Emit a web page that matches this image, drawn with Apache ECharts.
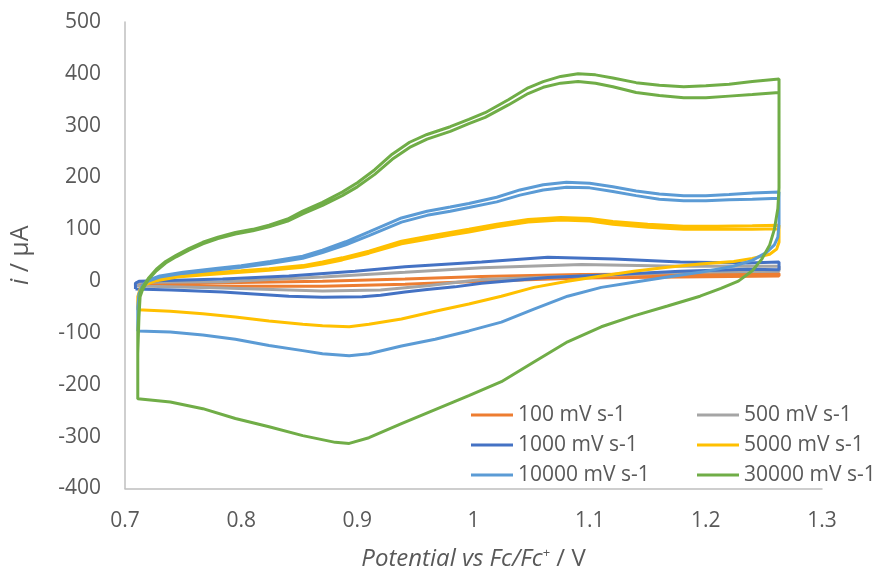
<!DOCTYPE html>
<html>
<head>
<meta charset="utf-8">
<script src="https://cdn.jsdelivr.net/npm/echarts@6/dist/echarts.min.js"></script>
<style>
  html, body { margin: 0; padding: 0; background: #fff; }
  #chart { width: 880px; height: 576px; }
</style>
</head>
<body>
<div id="chart"></div>
<script>
// axis ticks
const xTicks = { min: 0.7, max: 1.3, step: 0.1 }
const yTicks = { min: -400, max: 500, step: 100 }

const seriesNames = ['100 mV s-1', '500 mV s-1', '1000 mV s-1', '5000 mV s-1', '10000 mV s-1', '30000 mV s-1']
const seriesColors = ['#ED7D31', '#A5A5A5', '#4472C4', '#FFC000', '#5B9BD5', '#70AD47']

// [potential / V, current / uA], traced as a closed loop
const cv100 = [
  [0.709, -6], [0.709, -3], [0.72, -2], [0.784, -3], [0.87, 0], [0.941, 4], [1.007, 9],
  [1.093, 13], [1.178, 14], [1.263, 15], [1.263, 10], [1.178, 8], [1.093, 6], [1.007, 0],
  [0.941, -6], [0.87, -10], [0.784, -10], [0.72, -7], [0.709, -6]
]
const cv500 = [
  [0.709, -9], [0.709, -4], [0.715, -2], [0.784, -1], [0.87, 8], [0.941, 17], [1.007, 26],
  [1.093, 32], [1.178, 29], [1.263, 29], [1.263, 19], [1.178, 17], [1.093, 10], [1.007, 3],
  [0.96, -9], [0.92, -17], [0.87, -19], [0.784, -13], [0.72, -10], [0.709, -9]
]
const cv1000 = [
  [0.709, -15], [0.709, -4], [0.712, 0], [0.784, 4], [0.841, 10], [0.898, 19], [0.941, 28],
  [1.007, 37], [1.064, 46], [1.121, 43], [1.178, 37], [1.236, 35], [1.263, 37],
  [1.263, 22], [1.236, 23], [1.178, 19], [1.121, 13], [1.064, 7], [1.007, -4], [0.984, -11],
  [0.96, -16], [0.941, -21], [0.92, -27], [0.904, -30], [0.87, -31], [0.841, -29],
  [0.784, -21], [0.74, -17], [0.709, -15]
]
const cv5000 = [
  [0.711, -55], [0.711, -32], [0.713, -17], [0.718, -6], [0.727, 1], [0.745, 8], [0.767, 12],
  [0.8, 17], [0.824, 21], [0.853, 27], [0.87, 33], [0.887, 41], [0.91, 54], [0.938, 72],
  [0.96, 81], [0.98, 89], [0.996, 95], [1.02, 105], [1.047, 114], [1.075, 118], [1.1, 116],
  [1.12, 110], [1.15, 104], [1.181, 100], [1.21, 100], [1.24, 100], [1.263, 101],
  [1.263, 75], [1.261, 62], [1.255, 52], [1.24, 44], [1.224, 38], [1.195, 33], [1.167, 27],
  [1.138, 19], [1.11, 10], [1.081, 0], [1.052, -12], [1.024, -29], [0.996, -44], [0.967, -58],
  [0.938, -73], [0.91, -83], [0.893, -88], [0.87, -86], [0.853, -83], [0.824, -77],
  [0.795, -69], [0.767, -63], [0.739, -58], [0.711, -55],
  [0.711, -30], [0.713, -15], [0.718, -4], [0.727, 3], [0.745, 10], [0.767, 15], [0.8, 20],
  [0.824, 24], [0.853, 30], [0.87, 37], [0.887, 45], [0.91, 58], [0.938, 77], [0.96, 86],
  [0.98, 94], [0.996, 100], [1.02, 110], [1.047, 119], [1.075, 123], [1.1, 121], [1.12, 115],
  [1.15, 110], [1.181, 106], [1.21, 106], [1.24, 107], [1.263, 108], [1.263, 80]
]
const cv10000 = [
  [0.711, -96], [0.711, -55], [0.712, -28], [0.715, -10], [0.72, 0], [0.73, 8], [0.75, 15],
  [0.78, 22], [0.8, 27], [0.825, 34], [0.853, 44], [0.87, 55], [0.89, 70], [0.91, 88],
  [0.938, 114], [0.96, 127], [0.98, 135], [0.996, 142], [1.02, 153], [1.04, 166], [1.06, 176],
  [1.08, 181], [1.1, 180], [1.12, 173], [1.14, 165], [1.16, 158], [1.181, 155], [1.2, 155],
  [1.22, 157], [1.24, 158], [1.263, 160],
  [1.263, 110], [1.262, 85], [1.259, 70], [1.252, 55], [1.24, 40], [1.224, 29], [1.195, 17],
  [1.167, 8], [1.138, -2], [1.11, -12], [1.081, -29], [1.052, -54], [1.024, -79], [0.996, -96],
  [0.967, -112], [0.938, -125], [0.91, -140], [0.893, -144], [0.87, -140], [0.853, -134],
  [0.824, -124], [0.795, -112], [0.767, -104], [0.739, -98], [0.711, -96],
  [0.711, -50], [0.712, -25], [0.715, -8], [0.72, 2], [0.73, 10], [0.75, 17], [0.78, 25],
  [0.8, 30], [0.825, 38], [0.853, 48], [0.87, 60], [0.89, 76], [0.91, 95], [0.938, 122],
  [0.96, 135], [0.98, 143], [0.996, 150], [1.02, 162], [1.04, 176], [1.06, 186], [1.08, 191],
  [1.1, 189], [1.12, 182], [1.14, 174], [1.16, 168], [1.181, 165], [1.2, 165], [1.22, 167],
  [1.24, 170], [1.263, 172], [1.263, 120]
]
const cv30000 = [
  [0.711, -228], [0.711, -140], [0.712, -70], [0.713, -30], [0.715, -17], [0.72, 3],
  [0.727, 20], [0.735, 35], [0.744, 47], [0.755, 60], [0.767, 72], [0.78, 82], [0.795, 91],
  [0.81, 97], [0.824, 105], [0.84, 116], [0.853, 130], [0.87, 146], [0.887, 165], [0.9, 182],
  [0.915, 206], [0.93, 235], [0.945, 258], [0.96, 274], [0.98, 289], [0.996, 304], [1.01, 316],
  [1.03, 340], [1.047, 362], [1.06, 374], [1.075, 382], [1.09, 385], [1.105, 382], [1.12, 375],
  [1.14, 364], [1.16, 358], [1.181, 354], [1.2, 354], [1.22, 357], [1.24, 360], [1.263, 364],
  [1.263, 180], [1.262, 140], [1.259, 100], [1.255, 70], [1.248, 42], [1.24, 20], [1.228, 0],
  [1.213, -14], [1.195, -29], [1.167, -48], [1.138, -67], [1.11, -88], [1.081, -117],
  [1.052, -156], [1.024, -194], [0.996, -221], [0.967, -248], [0.938, -275], [0.91, -302],
  [0.893, -313], [0.881, -311], [0.853, -298], [0.824, -281], [0.795, -265], [0.767, -246],
  [0.739, -233], [0.711, -227],
  [0.711, -100], [0.712, -55], [0.713, -22], [0.715, -12], [0.72, 5], [0.727, 23], [0.735, 38],
  [0.744, 50], [0.755, 63], [0.767, 75], [0.78, 85], [0.795, 94], [0.81, 100], [0.824, 108],
  [0.84, 120], [0.853, 135], [0.87, 152], [0.887, 172], [0.9, 190], [0.915, 215], [0.93, 245],
  [0.945, 268], [0.96, 283], [0.98, 298], [0.996, 312], [1.01, 325], [1.03, 350], [1.047, 373],
  [1.06, 385], [1.075, 395], [1.09, 400], [1.105, 398], [1.12, 392], [1.14, 383], [1.16, 378],
  [1.181, 375], [1.2, 377], [1.22, 380], [1.24, 385], [1.263, 390], [1.263, 190]
]

const seriesData = [cv100, cv500, cv1000, cv5000, cv10000, cv30000]

const fontFamily = '"Open Sans", "Noto Sans", sans-serif'
const textColor = '#595959'
const axisColor = '#BFBFBF'

const chart = echarts.init(document.getElementById('chart'))

const legendStyle = {
  orient: 'vertical',
  top: 399,
  icon: 'rect',
  itemWidth: 42,
  itemHeight: 3,
  itemGap: 8,
  textStyle: { color: textColor, fontSize: 21, fontFamily: fontFamily, lineHeight: 22 }
}

const option = {
  animation: false,
  backgroundColor: '#fff',
  grid: { left: 122, right: 58, top: 22, bottom: 86 },
  legend: [
    Object.assign({ left: 466, data: [seriesNames[0], seriesNames[2], seriesNames[4]] }, legendStyle),
    Object.assign({ left: 692, data: [seriesNames[1], seriesNames[3], seriesNames[5]] }, legendStyle)
  ],
  xAxis: {
    type: 'value',
    min: xTicks.min,
    max: xTicks.max,
    interval: xTicks.step,
    name: '{it|Potential vs Fc/Fc}{sup|+}{n| / V}',
    nameLocation: 'middle',
    nameGap: 58,
    nameTextStyle: {
      rich: {
        it: { fontStyle: 'italic', fontSize: 24, color: textColor, fontFamily: fontFamily },
        sup: { fontSize: 13, color: textColor, fontFamily: fontFamily, padding: [0, 0, 12, 0] },
        n: { fontSize: 24, color: textColor, fontFamily: fontFamily }
      }
    },
    axisLine: { show: true, onZero: false, lineStyle: { color: axisColor, width: 1.5 } },
    axisTick: { show: false },
    splitLine: { show: false },
    axisLabel: { color: textColor, fontSize: 21, fontFamily: fontFamily, margin: 22 }
  },
  yAxis: {
    type: 'value',
    min: yTicks.min,
    max: yTicks.max,
    interval: yTicks.step,
    name: '{it|i}{n| / μA}',
    nameLocation: 'middle',
    nameRotate: 90,
    nameGap: 92,
    nameTextStyle: {
      rich: {
        it: { fontStyle: 'italic', fontSize: 25, color: textColor, fontFamily: fontFamily },
        n: { fontSize: 25, color: textColor, fontFamily: fontFamily }
      }
    },
    axisLine: { show: true, onZero: false, lineStyle: { color: axisColor, width: 1.5 } },
    axisTick: { show: false },
    splitLine: { show: false },
    axisLabel: { color: textColor, fontSize: 21, fontFamily: fontFamily, margin: 24 }
  },
  series: seriesNames.map((name, k) => ({
    name: name,
    type: 'line',
    data: seriesData[k],
    showSymbol: false,
    symbol: 'none',
    color: seriesColors[k],
    lineStyle: { width: 3, color: seriesColors[k] }
  }))
}

chart.setOption(option)
</script>
</body>
</html>
